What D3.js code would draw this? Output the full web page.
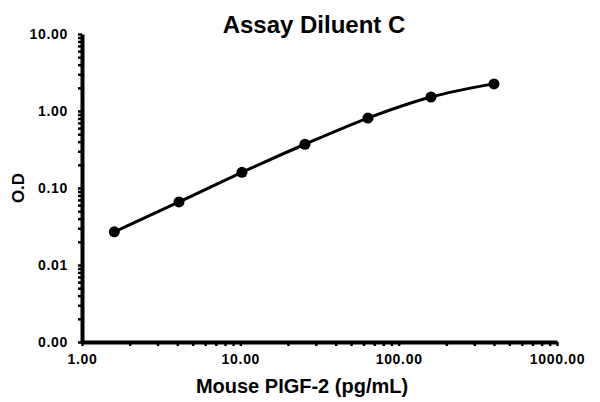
<!DOCTYPE html>
<meta charset="utf-8">
<title>Assay Diluent C</title>
<script src="https://d3js.org/d3.v7.min.js"></script>
<style>
  body { margin: 0; background: #fff; }
  text { font-family: "Liberation Sans", Arial, sans-serif; font-weight: bold; fill: #000; }
</style>
<body>
</body>
<script>
  // standard curve, 2.5-fold dilution series
  const conc = [1.6, 4.1, 10.24, 25.6, 64, 160, 400];
  const od   = [0.027, 0.066, 0.16, 0.37, 0.81, 1.52, 2.25];
  const yTicks = [0.001, 0.01, 0.1, 1, 10];
  const xTicks = [1, 10, 100, 1000];

  const width = 600, height = 402;
  const data = conc.map((c, i) => ({x: c, y: od[i]}));

  const svg = d3.select("body").append("svg")
      .attr("width", width).attr("height", height);

  const x = d3.scaleLog().domain([1, 1000]).range([82, 557]);
  const y = d3.scaleLog().domain([0.001, 10]).range([342, 34]);
  const fmt = d3.format(".2f");

  // minor ticks (2..9 in every decade)
  const minor = s => {
    const [a, b] = s.domain(), out = [];
    for (let d = a; d < b; d *= 10)
      for (let k = 2; k < 10; k++) out.push(d * k);
    return out;
  };

  ////////////////////////////// axes //////////////////////////////
  svg.append("g")
      .attr("transform", "translate(0,342)")
      .call(d3.axisBottom(x).tickValues(minor(x)).tickSize(4).tickFormat(""))
      .call(g => g.select(".domain").remove())
      .call(g => g.selectAll("line").attr("stroke-width", 2.5));

  svg.append("g")
      .attr("transform", "translate(82,0)")
      .call(d3.axisLeft(y).tickValues(minor(y)).tickSize(4).tickFormat(""))
      .call(g => g.select(".domain").remove())
      .call(g => g.selectAll("line").attr("stroke-width", 2.5));

  const xAxis = svg.append("g")
      .attr("transform", "translate(0,342)")
      .call(d3.axisBottom(x).tickValues(xTicks).tickFormat(fmt).tickSize(4).tickSizeOuter(0).tickPadding(8));
  xAxis.select(".domain").attr("stroke-width", 4);
  xAxis.selectAll("line").attr("stroke-width", 2.5);
  xAxis.selectAll("text").style("font-size", "14px").style("letter-spacing", "0.7px");

  const yAxis = svg.append("g")
      .attr("transform", "translate(82,0)")
      .call(d3.axisLeft(y).tickValues(yTicks).tickFormat(fmt).tickSize(4).tickSizeOuter(0).tickPadding(10));
  yAxis.select(".domain").attr("stroke-width", 4);
  yAxis.selectAll("line").attr("stroke-width", 2.5);
  yAxis.selectAll("text").style("font-size", "14px").style("letter-spacing", "0.7px");

  ////////////////////////////// curve //////////////////////////////
  const line = d3.line()
      .x(d => x(d.x))
      .y(d => y(d.y))
      .curve(d3.curveMonotoneX);

  svg.append("path")
      .datum(data)
      .attr("d", line)
      .attr("fill", "none")
      .attr("stroke", "#000")
      .attr("stroke-width", 3);

  svg.append("g")
    .selectAll("circle")
    .data(data)
    .join("circle")
      .attr("cx", d => x(d.x))
      .attr("cy", d => y(d.y))
      .attr("r", 5.5)
      .attr("fill", "#000");

  ////////////////////////////// labels //////////////////////////////
  svg.append("text")
      .attr("x", 314).attr("y", 33)
      .attr("text-anchor", "middle")
      .style("font-size", "24px")
      .text("Assay Diluent C");

  svg.append("text")
      .attr("x", 302).attr("y", 393)
      .attr("text-anchor", "middle")
      .style("font-size", "20px")
      .text("Mouse PIGF-2 (pg/mL)");

  svg.append("text")
      .attr("transform", "translate(24,188) rotate(-90)")
      .attr("text-anchor", "middle")
      .style("font-size", "17px")
      .text("O.D");
</script>
